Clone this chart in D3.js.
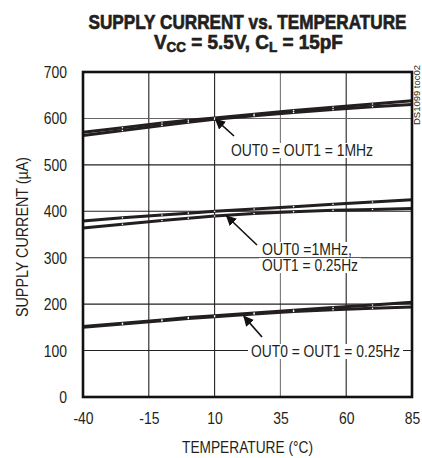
<!DOCTYPE html>
<html><head><meta charset="utf-8">
<script src="https://cdn.jsdelivr.net/npm/d3@7"></script>
<style>
body{margin:0;background:#fff;}
text{font-family:'Liberation Sans',Arial,sans-serif;fill:#231f20;}
</style></head>
<body><svg id="c" width="422" height="458"></svg>
<script>
const temps = [-40, -25, -10, 0, 10, 25, 40, 55, 70, 85];
const both1MHzA = [570, 580, 590, 596, 601, 609, 617, 624, 631, 638];
const both1MHzB = [563, 574, 585, 592, 598, 606, 613, 619, 625, 630];
const mixedA = [379, 386, 392, 396, 400, 405, 410, 415, 420, 425];
const mixedB = [364, 372, 380, 385, 390, 395, 399, 402, 404, 406];
const bothLowA = [152, 159, 166, 171, 175, 181, 187, 193, 198, 204];
const bothLowB = [150, 157, 164, 169, 173, 179, 184, 188, 191, 194];
const xTicks = [-40, -15, 10, 35, 60, 85];
const yTicks = [0, 100, 200, 300, 400, 500, 600, 700];
const seriesList = [both1MHzA, both1MHzB, mixedA, mixedB, bothLowA, bothLowB];

const svg = d3.select("#c");
const L = 83, R = 412, T = 72, B = 397;
const x = d3.scaleLinear().domain([-40, 85]).range([L, R]);
const y = d3.scaleLinear().domain([0, 700]).range([B, T]);

function condense(sel, f) {
  sel.each(function () {
    const w = this.getComputedTextLength();
    d3.select(this).attr("textLength", w * f).attr("lengthAdjust", "spacingAndGlyphs");
  });
}

// grid
const g = svg.append("g");
g.selectAll(".vg").data(xTicks.slice(1, -1)).enter().append("line")
  .attr("x1", d => x(d)).attr("x2", d => x(d)).attr("y1", T).attr("y2", B)
  .attr("stroke", d => d === 35 ? "#777" : "#222").attr("stroke-width", 1.1);
g.selectAll(".hg").data(yTicks.slice(1, -1)).enter().append("line")
  .attr("y1", d => y(d)).attr("y2", d => y(d)).attr("x1", L).attr("x2", R)
  .attr("stroke", d => d === 600 ? "#666" : "#222").attr("stroke-width", 1.1);

// lines
const line = d3.line().x((d, i) => x(temps[i])).y(d => y(d));
seriesList.forEach(s => {
  svg.append("path").datum(s).attr("d", line).attr("fill", "none")
    .attr("stroke", "#231f20").attr("stroke-width", 3);
});
seriesList.forEach(s => {
  svg.append("g").selectAll("circle").data(s.slice(1, -1)).enter().append("circle")
    .attr("cx", (d, i) => x(temps[i + 1])).attr("cy", d => y(d)).attr("r", 0.8).attr("fill", "#fff");
});

// border
svg.append("rect").attr("x", L).attr("y", T).attr("width", R - L).attr("height", B - T)
  .attr("fill", "none").attr("stroke", "#111").attr("stroke-width", 2.6);

// axes labels
const ya = d3.axisLeft(y).tickValues(yTicks).tickSize(0).tickPadding(16).tickFormat(d => String(d));
const yg = svg.append("g").attr("transform", `translate(${L},0)`).call(ya);
const xa = d3.axisBottom(x).tickValues(xTicks).tickSize(0).tickPadding(15).tickFormat(d => String(d));
const xg = svg.append("g").attr("transform", `translate(0,${B})`).call(xa);
[yg, xg].forEach(a => {
  a.select(".domain").remove();
  a.selectAll("text").style("font-size", "17px").attr("fill", "#231f20")
    .style("font-family", "'Liberation Sans',Arial,sans-serif");
  condense(a.selectAll("text"), 0.82);
});

svg.append("text").attr("x", 247.5).attr("y", 453).attr("text-anchor", "middle")
  .style("font-size", "16.5px").attr("textLength", 131).attr("lengthAdjust", "spacingAndGlyphs")
  .text("TEMPERATURE (°C)");
svg.append("text").attr("transform", `translate(22,237) rotate(-90)`)
  .attr("text-anchor", "middle").attr("dy", "0.35em").style("font-size", "16.5px")
  .attr("textLength", 160).attr("lengthAdjust", "spacingAndGlyphs").text("SUPPLY CURRENT (µA)");

// title
svg.append("text").attr("x", 247.5).attr("y", 29).attr("text-anchor", "middle")
  .style("font-size", "21px").style("font-weight", "bold")
  .attr("stroke", "#231f20").attr("stroke-width", 0.7)
  .attr("textLength", 318).attr("lengthAdjust", "spacingAndGlyphs")
  .text("SUPPLY CURRENT vs. TEMPERATURE");
const st = svg.append("text").attr("x", 0).attr("y", 49)
  .style("font-size", "21px").style("font-weight", "bold")
  .attr("stroke", "#231f20").attr("stroke-width", 0.7);
st.append("tspan").text("V");
st.append("tspan").attr("dy", 3).style("font-size", "15px").text("CC");
st.append("tspan").attr("dy", -3).text(" = 5.5V, C");
st.append("tspan").attr("dy", 3).style("font-size", "15px").text("L");
st.append("tspan").attr("dy", -3).text(" = 15pF");
{
  const bb = st.node().getBBox();
  const s = 189 / bb.width;
  st.attr("transform", `translate(154,0) scale(${s},1) translate(${-bb.x},0)`);
}

// side code
svg.append("text").attr("transform", "translate(417,95) rotate(-90)")
  .attr("text-anchor", "middle").attr("dy", "0.35em").style("font-size", "8.5px")
  .attr("textLength", 60).attr("lengthAdjust", "spacingAndGlyphs")
  .attr("fill", "#555").text("DS1099 toc02");

// annotations
const defs = svg.append("defs");
defs.append("marker").attr("id", "ah").attr("viewBox", "0 0 10 10").attr("refX", 9).attr("refY", 5)
  .attr("markerWidth", 6.5).attr("markerHeight", 6.5).attr("orient", "auto")
  .append("path").attr("d", "M0,0 L10,5 L0,10 Z").attr("fill", "#111");

function label(lines, widths, lx, ly, tx, ty, ax, ay) {
  lines.forEach((t, i) => {
    const yy = ly + i * 16;
    svg.append("rect").attr("x", lx - 3).attr("y", yy - 13).attr("width", widths[i] + 6)
      .attr("height", 15).attr("fill", "#fff");
  });
  lines.forEach((t, i) => {
    svg.append("text").attr("x", lx).attr("y", ly + i * 16)
      .style("font-size", "17px").attr("textLength", widths[i]).attr("lengthAdjust", "spacingAndGlyphs").text(t);
  });
  svg.append("line").attr("x1", tx).attr("y1", ty).attr("x2", ax).attr("y2", ay)
    .attr("stroke", "#111").attr("stroke-width", 1.6).attr("marker-end", "url(#ah)");
}
label(["OUT0 = OUT1 = 1MHz"], [142], 231, 156, 234, 136, x(10) + 1, y(600) + 1);
label(["OUT0 =1MHz,", "OUT1 = 0.25Hz"], [90, 96], 262, 255, 257, 245, x(10) + 12, y(392) + 1);
label(["OUT0 = OUT1 = 0.25Hz"], [149], 251, 357, 262, 337, x(20) + 3, y(178) + 2);
</script></body></html>
